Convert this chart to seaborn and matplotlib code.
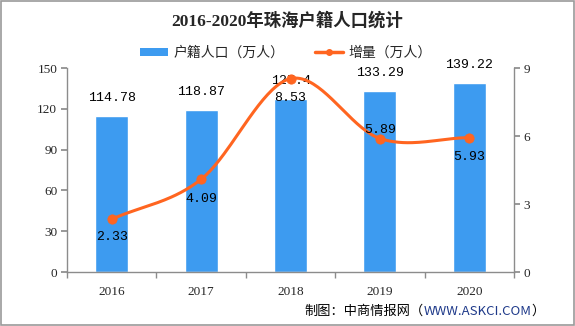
import numpy as np
import pandas as pd
import matplotlib
matplotlib.use("Agg")
import matplotlib.pyplot as plt
from matplotlib.lines import Line2D
from matplotlib.patches import Patch, Rectangle
import seaborn as sns

years = ["2016", "2017", "2018", "2019", "2020"]
population = [114.78, 118.87, 127.4, 133.29, 139.22]
increment = [2.33, 4.09, 8.53, 5.89, 5.93]
left_ticks = [0, 30, 60, 90, 120, 150]
right_ticks = [0, 3, 6, 9]

title = "2016-2020年珠海户籍人口统计"
bar_name = "户籍人口（万人）"
line_name = "增量（万人）"

BLUE = "#3D9BF0"
ORANGE = "#FF6520"
AXIS = "#8C8C8C"

sns.set_theme(style="white")
plt.rcParams["font.family"] = ["Noto Sans CJK SC", "DejaVu Sans"]
serif = ["Liberation Serif", "Noto Sans CJK SC"]
mono = ["Liberation Mono", "DejaVu Sans Mono"]

fig = plt.figure(figsize=(5.75, 3.26), dpi=100)
fig.patch.set_facecolor("white")
ax = fig.add_axes([0.1165, 0.1656, 0.894 - 0.1165, 0.7914 - 0.1656])

df = pd.DataFrame({"year": years, "population": population})
sns.barplot(data=df, x="year", y="population", color=BLUE, saturation=1,
            width=0.37, ax=ax, zorder=2)
ax.set_xlim(-0.5, 4.5)
ax.set_ylim(0, 150)
ax.set_yticks(left_ticks)
ax.set_xlabel("")
ax.set_ylabel("")
for i, v in enumerate(population):
    ax.annotate(f"{v:g}", (i, v), xytext=(0, 13), textcoords="offset points",
                ha="center", va="center", fontsize=9.5, family=mono, color="black", zorder=5)

# x axis: category boundaries get tick marks, labels sit at centres
ax.set_xticks(range(len(years)))
ax.set_xticklabels(years, family=serif, fontsize=9.5)
ax.set_xticks(np.arange(-0.5, 5, 1), minor=True)
ax.tick_params(axis="x", which="major", length=0, pad=10)
ax.tick_params(axis="x", which="minor", length=4, color=AXIS, direction="out", bottom=True)
ax.tick_params(axis="y", length=4, color=AXIS, direction="out", left=True, pad=3)
for lbl in ax.get_yticklabels():
    lbl.set_family(serif)
    lbl.set_fontsize(9.5)
for s in ["top", "right"]:
    ax.spines[s].set_visible(False)
for s in ["left", "bottom"]:
    ax.spines[s].set_color(AXIS)
    ax.spines[s].set_linewidth(1)
ax.grid(False)

# secondary axis with a smoothed increment line
ax2 = ax.twinx()
ax2.set_ylim(0, 9)
ax2.set_yticks(right_ticks)
ax2.set_xlim(-0.5, 4.5)
x = np.arange(len(increment), dtype=float)
y = np.array(increment, dtype=float)
px = np.concatenate([[2 * x[0] - x[1]], x, [2 * x[-1] - x[-2]]])
py = np.concatenate([[2 * y[0] - y[1]], y, [2 * y[-1] - y[-2]]])
cx, cy = [], []
for k in range(1, len(px) - 2):
    t = np.linspace(0, 1, 40)
    p0, p1, p2, p3 = py[k - 1], py[k], py[k + 1], py[k + 2]
    cy.append(0.5 * ((2 * p1) + (-p0 + p2) * t + (2 * p0 - 5 * p1 + 4 * p2 - p3) * t ** 2
                     + (-p0 + 3 * p1 - 3 * p2 + p3) * t ** 3))
    cx.append(px[k] + t)
curve = pd.DataFrame({"x": np.concatenate(cx), "y": np.concatenate(cy)})
sns.lineplot(data=curve, x="x", y="y", color=ORANGE, linewidth=2.2, ax=ax2,
             sort=False, estimator=None, zorder=3)
sns.scatterplot(x=x, y=y, color=ORANGE, s=45, edgecolor=ORANGE, ax=ax2, zorder=4)
offsets = [-13, -14, -14, 6, -14]
for i, v in enumerate(increment):
    ax2.annotate(f"{v:.2f}", (i, v), xytext=(0, offsets[i]), textcoords="offset points",
                 ha="center", va="center", fontsize=9.5, family=mono, color="black", zorder=5)
ax2.set_xlabel("")
ax2.set_ylabel("")
ax2.tick_params(axis="y", length=4, color=AXIS, direction="out", right=True, pad=3)
for lbl in ax2.get_yticklabels():
    lbl.set_family(serif)
    lbl.set_fontsize(9.5)
for s in ["top", "left", "bottom"]:
    ax2.spines[s].set_visible(False)
ax2.spines["right"].set_color(AXIS)
ax2.spines["right"].set_linewidth(1)
ax2.grid(False)

# title and legend
fig.text(0.5, 0.935, title, ha="center", va="center", fontsize=12.5,
         fontweight="bold", family=serif)
handles = [Patch(facecolor=BLUE, edgecolor="none"),
           Line2D([0], [0], color=ORANGE, linewidth=2.5, marker="o", markersize=4)]
fig.legend(handles, [bar_name, line_name], loc="center", bbox_to_anchor=(0.497, 0.838),
           ncol=2, frameon=False, fontsize=10, handlelength=2.0, handleheight=0.6,
           columnspacing=2.2, handletextpad=0.4)

# source note, with the web address in blue
fig.canvas.draw()
r = fig.canvas.get_renderer()
parts = [("制图：中商情报网（", "black"), ("WWW.ASKCI.COM", "#1F3A8A"), ("）", "black")]
widths = []
texts = []
for s, c in parts:
    t = fig.text(0, 0.045, s, ha="left", va="center", fontsize=9.5, color=c)
    widths.append(t.get_window_extent(r).width / fig.bbox.width)
    texts.append(t)
xpos = 0.948 - sum(widths)
for t, w in zip(texts, widths):
    t.set_x(xpos)
    xpos += w

fig.patches.append(Rectangle((0.001, 0.002), 0.997, 0.995, transform=fig.transFigure,
                             fill=False, edgecolor="#9A9A9A", linewidth=1.2))

fig.savefig("out.png", dpi=100, facecolor="white")
